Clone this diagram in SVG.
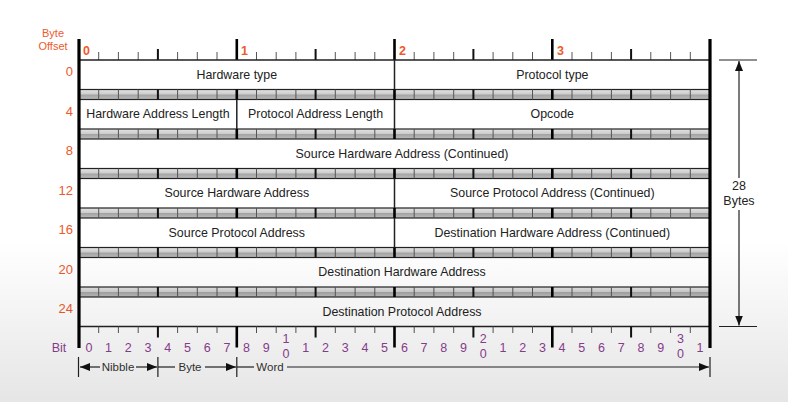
<svg xmlns="http://www.w3.org/2000/svg" xmlns:xlink="http://www.w3.org/1999/xlink" width="788" height="402" viewBox="0 0 788 402">
<defs>
<style>
text{font-family:"Liberation Sans",Arial,sans-serif}
.f{font-size:12.4px;fill:#222;text-anchor:middle;dominant-baseline:central}
.off{font-size:13px;fill:#ee5a2c;text-anchor:end;dominant-baseline:central}
.hdr{font-size:11px;fill:#ee5a2c;text-anchor:middle}
.byt{font-size:12.5px;fill:#ee5a2c;font-weight:bold}
.bit{font-size:12.5px;fill:#8e3f94;text-anchor:middle;dominant-baseline:central}
.arw{font-size:11.5px;fill:#333;text-anchor:middle;dominant-baseline:central}
.thin{stroke:#555;stroke-width:1;fill:none}
.nib{stroke:#111;stroke-width:2;fill:none}
.byte{stroke:#000;stroke-width:2.6;fill:none}
.div{stroke:#222;stroke-width:1.5;fill:none}
.edge{stroke:#222;stroke-width:1.5;fill:none}
.outer{stroke:#000;stroke-width:3.2;fill:none}
.con{stroke:#222;stroke-width:1.2;fill:none}
.strip{fill:url(#stripG);stroke:#222;stroke-width:1.2}
</style>
<linearGradient id="stripG" x1="0" y1="0" x2="0" y2="1">
<stop offset="0" stop-color="#e4e4e4"/>
<stop offset="0.45" stop-color="#cdcdcd"/>
<stop offset="0.55" stop-color="#a4a4a4"/>
<stop offset="1" stop-color="#bcbcbc"/>
</linearGradient>
<linearGradient id="shade" gradientUnits="userSpaceOnUse" x1="0" y1="240" x2="0" y2="402">
<stop offset="0" stop-color="#000" stop-opacity="0"/>
<stop offset="1" stop-color="#000" stop-opacity="0.1"/>
</linearGradient>
<marker id="ah" viewBox="0 0 10 8" refX="10" refY="4" markerWidth="10" markerHeight="8" markerUnits="userSpaceOnUse" orient="auto-start-reverse">
<path d="M0 0L10 4L0 8z" fill="#111"/>
</marker>
<g id="strip">
<rect class="strip" x="79" y="0" width="631" height="10"/>
<path class="thin" d="M98.7 0v10M118.4 0v10M138.2 0v10M177.6 0v10M197.3 0v10M217 0v10M256.5 0v10M276.2 0v10M295.9 0v10M335.3 0v10M355.1 0v10M374.8 0v10M414.2 0v10M433.9 0v10M453.7 0v10M493.1 0v10M512.8 0v10M532.5 0v10M572 0v10M591.7 0v10M611.4 0v10M650.8 0v10M670.6 0v10M690.3 0v10"/>
<path class="nib" d="M157.9 0v10M315.6 0v10M473.4 0v10M631.1 0v10"/>
<path class="byte" d="M236.8 0v10M394.5 0v10M552.3 0v10"/>
</g>
</defs>

<rect x="0" y="0" width="788" height="402" fill="#fff"/>

<g id="header">
<text class="hdr" x="53" y="37">Byte</text>
<text class="hdr" x="53" y="50">Offset</text>
<text class="byt" x="83" y="55">0</text>
<text class="byt" x="241" y="55">1</text>
<text class="byt" x="399" y="55">2</text>
<text class="byt" x="557" y="55">3</text>
<path class="thin" d="M98.7 52v8M118.4 52v8M138.2 52v8M177.6 52v8M197.3 52v8M217 52v8M256.5 52v8M276.2 52v8M295.9 52v8M335.3 52v8M355.1 52v8M374.8 52v8M414.2 52v8M433.9 52v8M453.7 52v8M493.1 52v8M512.8 52v8M532.5 52v8M572 52v8M591.7 52v8M611.4 52v8M650.8 52v8M670.6 52v8M690.3 52v8"/>
<path class="nib" d="M157.9 49v11M315.6 49v11M473.4 49v11M631.1 49v11"/>
<path class="byte" d="M236.8 39v21M394.5 39v21M552.3 39v21"/>
</g>

<g id="table">
<rect x="79" y="60" width="631" height="266.5" fill="#fff"/>
<use xlink:href="#strip" href="#strip" y="89.5"/>
<use xlink:href="#strip" href="#strip" y="129"/>
<use xlink:href="#strip" href="#strip" y="168.5"/>
<use xlink:href="#strip" href="#strip" y="208"/>
<use xlink:href="#strip" href="#strip" y="247.5"/>
<use xlink:href="#strip" href="#strip" y="287"/>
<path class="edge" d="M79 60H710M79 326.5H710"/>
<path class="div" d="M394.5 60V89.5M236.8 99.5V129M394.5 99.5V129M394.5 178.5V208M394.5 218V247.5"/>
</g>

<g id="offsets">
<text class="off" x="73" y="71.5">0</text>
<text class="off" x="73" y="111">4</text>
<text class="off" x="73" y="150.5">8</text>
<text class="off" x="73" y="190">12</text>
<text class="off" x="73" y="229.5">16</text>
<text class="off" x="73" y="269">20</text>
<text class="off" x="73" y="308.5">24</text>
</g>

<g id="hardware-type"><text class="f" x="236.8" y="74.8">Hardware type</text></g>
<g id="protocol-type"><text class="f" x="552.3" y="74.8">Protocol type</text></g>
<g id="hardware-address-length"><text class="f" x="157.9" y="114.3">Hardware Address Length</text></g>
<g id="protocol-address-length"><text class="f" x="315.6" y="114.3">Protocol Address Length</text></g>
<g id="opcode"><text class="f" x="552.3" y="114.3">Opcode</text></g>
<g id="source-hw-cont"><text class="f" x="402" y="153.8">Source Hardware Address (Continued)</text></g>
<g id="source-hw"><text class="f" x="236.8" y="193.3">Source Hardware Address</text></g>
<g id="source-proto-cont"><text class="f" x="552.3" y="193.3">Source Protocol Address (Continued)</text></g>
<g id="source-proto"><text class="f" x="236.8" y="232.8">Source Protocol Address</text></g>
<g id="dest-hw-cont"><text class="f" x="552.3" y="232.8">Destination Hardware Address (Continued)</text></g>
<g id="dest-hw"><text class="f" x="402" y="272.3">Destination Hardware Address</text></g>
<g id="dest-proto"><text class="f" x="402" y="311.8">Destination Protocol Address</text></g>

<g id="bit-ruler">
<path class="thin" d="M98.7 326.5v6.5M118.4 326.5v6.5M138.2 326.5v6.5M177.6 326.5v6.5M197.3 326.5v6.5M217 326.5v6.5M256.5 326.5v6.5M276.2 326.5v6.5M295.9 326.5v6.5M335.3 326.5v6.5M355.1 326.5v6.5M374.8 326.5v6.5M414.2 326.5v6.5M433.9 326.5v6.5M453.7 326.5v6.5M493.1 326.5v6.5M512.8 326.5v6.5M532.5 326.5v6.5M572 326.5v6.5M591.7 326.5v6.5M611.4 326.5v6.5M650.8 326.5v6.5M670.6 326.5v6.5M690.3 326.5v6.5"/>
<path class="nib" d="M157.9 326.5v11M315.6 326.5v11M473.4 326.5v11M631.1 326.5v11"/>
<path class="byte" d="M236.8 326.5v21M394.5 326.5v21M552.3 326.5v21"/>
<text class="bit" x="59" y="348">Bit</text>
<text class="bit" x="88.9" y="348">0</text>
<text class="bit" x="108.6" y="348">1</text>
<text class="bit" x="128.3" y="348">2</text>
<text class="bit" x="148" y="348">3</text>
<text class="bit" x="167.7" y="348">4</text>
<text class="bit" x="187.5" y="348">5</text>
<text class="bit" x="207.2" y="348">6</text>
<text class="bit" x="226.9" y="348">7</text>
<text class="bit" x="246.6" y="348">8</text>
<text class="bit" x="266.3" y="348">9</text>
<text class="bit" x="286" y="339">1</text>
<text class="bit" x="286" y="354">0</text>
<text class="bit" x="305.8" y="348">1</text>
<text class="bit" x="325.5" y="348">2</text>
<text class="bit" x="345.2" y="348">3</text>
<text class="bit" x="364.9" y="348">4</text>
<text class="bit" x="384.6" y="348">5</text>
<text class="bit" x="404.4" y="348">6</text>
<text class="bit" x="424.1" y="348">7</text>
<text class="bit" x="443.8" y="348">8</text>
<text class="bit" x="463.5" y="348">9</text>
<text class="bit" x="483.2" y="339">2</text>
<text class="bit" x="483.2" y="354">0</text>
<text class="bit" x="503" y="348">1</text>
<text class="bit" x="522.7" y="348">2</text>
<text class="bit" x="542.4" y="348">3</text>
<text class="bit" x="562.1" y="348">4</text>
<text class="bit" x="581.8" y="348">5</text>
<text class="bit" x="601.5" y="348">6</text>
<text class="bit" x="621.3" y="348">7</text>
<text class="bit" x="641" y="348">8</text>
<text class="bit" x="660.7" y="348">9</text>
<text class="bit" x="680.4" y="339">3</text>
<text class="bit" x="680.4" y="354">0</text>
<text class="bit" x="700.1" y="348">1</text>
</g>

<path class="outer" d="M79 39V348M710 39V348"/>

<g id="connectors">
<path class="con" d="M78.5 357V377M157.9 357V377M236.8 357V377M710 357V377M719 60H757M719 326.5H757"/>
<path class="con" d="M100 367H80" marker-end="url(#ah)"/>
<path class="con" d="M136 367H157" marker-end="url(#ah)"/>
<path class="con" d="M158 367H175"/>
<path class="con" d="M205 367H236" marker-end="url(#ah)"/>
<path class="con" d="M237 367H254"/>
<path class="con" d="M287 367H709" marker-end="url(#ah)"/>
<path class="con" d="M739 178V61" marker-end="url(#ah)"/>
<path class="con" d="M739 210V325.5" marker-end="url(#ah)"/>
<text class="arw" x="118" y="367">Nibble</text>
<text class="arw" x="190" y="367">Byte</text>
<text class="arw" x="270" y="367">Word</text>
<text class="f" x="739" y="186" style="font-size:12.5px">28</text>
<text class="f" x="739" y="201" style="font-size:12.5px">Bytes</text>
</g>

<rect x="0" y="240" width="788" height="162" fill="url(#shade)"/>
</svg>
